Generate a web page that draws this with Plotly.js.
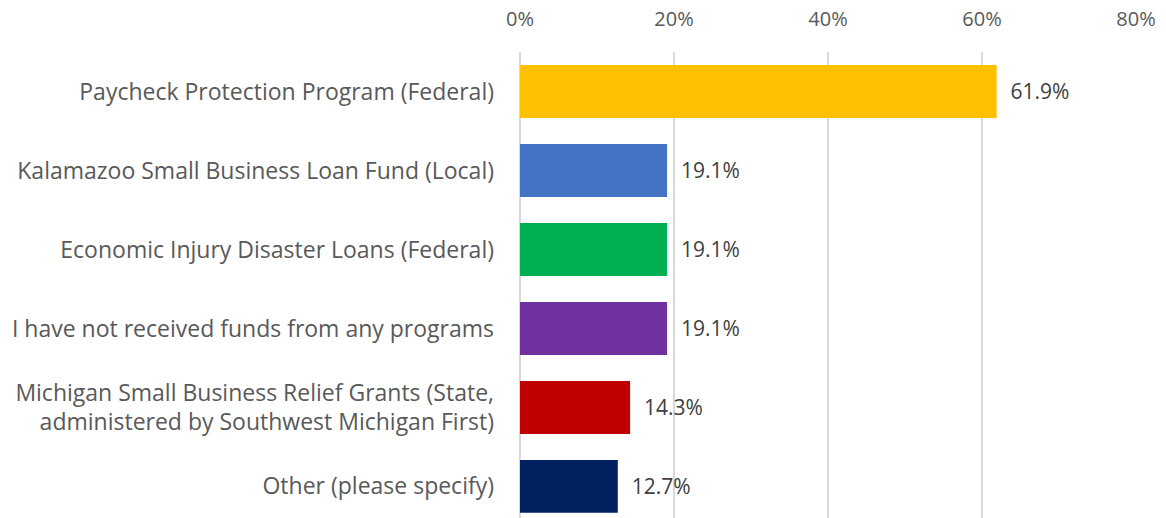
<!DOCTYPE html>
<html>
<head>
<meta charset="utf-8">
<script src="https://cdn.plot.ly/plotly-3.0.1.min.js"></script>
<style>
  body { margin: 0; background: #fff; overflow: hidden; }
  #chart { width: 1166px; height: 518px; }
</style>
</head>
<body>
<div id="chart"></div>
<script>
// program names, top to bottom
var programs = [
    "Paycheck Protection Program (Federal)",
    "Kalamazoo Small Business Loan Fund (Local)",
    "Economic Injury Disaster Loans (Federal)",
    "I have not received funds from any programs",
    "Michigan Small Business Relief Grants (State,<br>administered by Southwest Michigan First)",
    "Other (please specify)"
];
var shares = [61.9, 19.1, 19.1, 19.1, 14.3, 12.7];
var barColors = ["#FFC000", "#4472C4", "#00B050", "#7030A0", "#C00000", "#002060"];
var tickVals = [0, 20, 40, 60, 80];
var tickText = tickVals.map(function (v) { return v + "%"; });

var fontFam = "Open Sans, Liberation Sans, sans-serif";

var trace = {
    type: "bar",
    orientation: "h",
    y: programs,
    x: shares,
    marker: { color: barColors },
    texttemplate: "  %{x:.1f}%",
    textposition: "outside",
    cliponaxis: false,
    textfont: { family: fontFam, size: 21, color: "#404040" },
    hoverinfo: "none"
};

var layout = {
    width: 1166,
    height: 518,
    margin: { l: 520, r: 30, t: 52, b: 0 },
    paper_bgcolor: "#fff",
    plot_bgcolor: "#fff",
    showlegend: false,
    bargap: 0.33,
    font: { family: fontFam, color: "#595959" },
    xaxis: {
        side: "top",
        range: [0, 80],
        tickmode: "array",
        tickvals: tickVals,
        ticktext: tickText,
        showgrid: true,
        gridcolor: "#D9D9D9",
        gridwidth: 1.5,
        zeroline: true,
        zerolinecolor: "#D9D9D9",
        zerolinewidth: 1.5,
        showline: false,
        ticks: "",
        ticklabelstandoff: 21,
        tickfont: { family: fontFam, size: 20, color: "#595959" }
    },
    yaxis: {
        range: [5.4, -0.5],
        showgrid: false,
        zeroline: false,
        showline: false,
        ticks: "",
        ticklabelstandoff: 25,
        tickfont: { family: fontFam, size: 23, color: "#595959" }
    }
};

Plotly.newPlot("chart", [trace], layout, { displayModeBar: false, staticPlot: true });
</script>
</body>
</html>
